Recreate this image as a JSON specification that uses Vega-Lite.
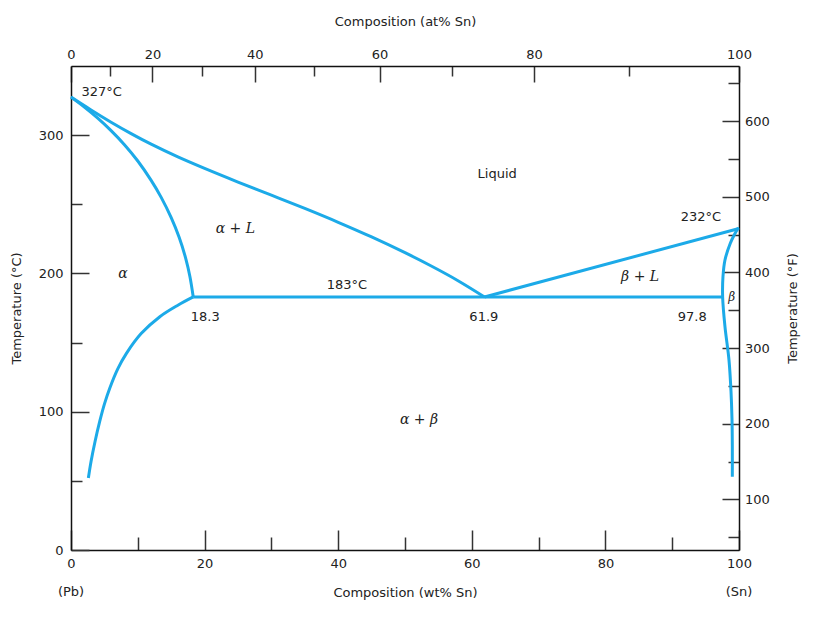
{
  "$schema": "https://vega.github.io/schema/vega-lite/v6.json",
  "width": 668,
  "height": 484,
  "padding": {"left": 10, "top": 15, "right": 5, "bottom": 5},
  "config": {
    "view": {"stroke": null},
    "font": "DejaVu Sans",
    "axis": {
      "grid": false,
      "domainColor": "#111111",
      "domainWidth": 1.5,
      "tickColor": "#333333",
      "tickWidth": 1.5,
      "labelFont": "DejaVu Sans",
      "labelFontSize": 13,
      "labelColor": "#222222",
      "labelFlush": false,
      "labelOverlap": false,
      "titleFont": "DejaVu Sans",
      "titleFontSize": 13,
      "titleFontWeight": "normal",
      "titleColor": "#222222"
    }
  },
  "datasets": {
    "curves": [
      {"curve": "liqA", "i": 1, "w": 0, "T": 327.5},
      {"curve": "liqA", "i": 2, "w": 3, "T": 318.2},
      {"curve": "liqA", "i": 3, "w": 6, "T": 309.35},
      {"curve": "liqA", "i": 4, "w": 9, "T": 301.1},
      {"curve": "liqA", "i": 5, "w": 12, "T": 293.45},
      {"curve": "liqA", "i": 6, "w": 16, "T": 284.25},
      {"curve": "liqA", "i": 7, "w": 20, "T": 275.93},
      {"curve": "liqA", "i": 8, "w": 25, "T": 266.08},
      {"curve": "liqA", "i": 9, "w": 30, "T": 256.58},
      {"curve": "liqA", "i": 10, "w": 35, "T": 246.98},
      {"curve": "liqA", "i": 11, "w": 40, "T": 236.98},
      {"curve": "liqA", "i": 12, "w": 45, "T": 226.38},
      {"curve": "liqA", "i": 13, "w": 50, "T": 214.98},
      {"curve": "liqA", "i": 14, "w": 54, "T": 205.18},
      {"curve": "liqA", "i": 15, "w": 58, "T": 194.58},
      {"curve": "liqA", "i": 16, "w": 61.9, "T": 183},
      {"curve": "solA", "i": 1, "w": 0, "T": 327.5},
      {"curve": "solA", "i": 2, "w": 2, "T": 320.3},
      {"curve": "solA", "i": 3, "w": 4, "T": 312.3},
      {"curve": "solA", "i": 4, "w": 6, "T": 303.3},
      {"curve": "solA", "i": 5, "w": 8, "T": 293.1},
      {"curve": "solA", "i": 6, "w": 10, "T": 281.3},
      {"curve": "solA", "i": 7, "w": 12, "T": 267.3},
      {"curve": "solA", "i": 8, "w": 13.5, "T": 255},
      {"curve": "solA", "i": 9, "w": 15, "T": 240.3},
      {"curve": "solA", "i": 10, "w": 16.2, "T": 225.9},
      {"curve": "solA", "i": 11, "w": 17.2, "T": 210.4},
      {"curve": "solA", "i": 12, "w": 17.8, "T": 197.8},
      {"curve": "solA", "i": 13, "w": 18.3, "T": 183},
      {"curve": "solvA", "i": 1, "w": 18.3, "T": 183},
      {"curve": "solvA", "i": 2, "w": 16, "T": 177},
      {"curve": "solvA", "i": 3, "w": 13.3, "T": 168.7},
      {"curve": "solvA", "i": 4, "w": 10.5, "T": 156.5},
      {"curve": "solvA", "i": 5, "w": 8.3, "T": 142.2},
      {"curve": "solvA", "i": 6, "w": 7, "T": 131},
      {"curve": "solvA", "i": 7, "w": 5.8, "T": 117},
      {"curve": "solvA", "i": 8, "w": 5, "T": 105.5},
      {"curve": "solvA", "i": 9, "w": 4.3, "T": 93},
      {"curve": "solvA", "i": 10, "w": 3.6, "T": 78.5},
      {"curve": "solvA", "i": 11, "w": 3.0, "T": 64},
      {"curve": "solvA", "i": 12, "w": 2.6, "T": 52},
      {"curve": "eut", "i": 1, "w": 18.3, "T": 183},
      {"curve": "eut", "i": 2, "w": 97.6, "T": 183},
      {"curve": "liqB", "i": 1, "w": 61.9, "T": 183},
      {"curve": "liqB", "i": 2, "w": 100, "T": 232.5},
      {"curve": "beta", "i": 1, "w": 99.9, "T": 233},
      {"curve": "beta", "i": 2, "w": 99.3, "T": 228},
      {"curve": "beta", "i": 3, "w": 98.7, "T": 221.8},
      {"curve": "beta", "i": 4, "w": 97.9, "T": 209.7},
      {"curve": "beta", "i": 5, "w": 97.6, "T": 197.6},
      {"curve": "beta", "i": 6, "w": 97.55, "T": 183},
      {"curve": "beta", "i": 7, "w": 97.9, "T": 161.5},
      {"curve": "beta", "i": 8, "w": 98.5, "T": 137.4},
      {"curve": "beta", "i": 9, "w": 98.8, "T": 115},
      {"curve": "beta", "i": 10, "w": 98.95, "T": 95},
      {"curve": "beta", "i": 11, "w": 99.0, "T": 75},
      {"curve": "beta", "i": 12, "w": 99.0, "T": 53}
    ],
    "sansLabels": [
      {"text": "327°C", "w": 4.6, "T": 331.4},
      {"text": "Liquid", "w": 63.8, "T": 271.9},
      {"text": "183°C", "w": 41.3, "T": 191.6},
      {"text": "232°C", "w": 94.3, "T": 241},
      {"text": "18.3", "w": 20.1, "T": 168.7},
      {"text": "61.9", "w": 61.8, "T": 168.7},
      {"text": "97.8", "w": 93.0, "T": 168.7},
      {"text": "(Pb)", "w": 0, "T": -30.1},
      {"text": "(Sn)", "w": 100, "T": -30.1}
    ],
    "phaseLabels": [
      {"text": "α + L", "w": 24.6, "T": 231.9},
      {"text": "α", "w": 7.8, "T": 199.6},
      {"text": "β + L", "w": 85.2, "T": 197.6},
      {"text": "α + β", "w": 52.1, "T": 94}
    ],
    "smallLabels": [
      {"text": "β", "w": 98.9, "T": 183.2}
    ],
    "atAxis": [{"w": 0}, {"w": 100}],
    "fAxis": [{"F": 50}, {"F": 650}]
  },
  "layer": [
    {
      "data": {"name": "curves"},
      "mark": {"type": "line", "color": "#1caae8", "strokeWidth": 3, "interpolate": "catmull-rom"},
      "encoding": {
        "x": {
          "field": "w", "type": "quantitative",
          "scale": {"domain": [0, 100], "nice": false},
          "axis": {
            "orient": "bottom",
            "title": "Composition (wt% Sn)",
            "values": [0, 10, 20, 30, 40, 50, 60, 70, 80, 90, 100],
            "labelExpr": "datum.value % 20 === 0 ? datum.label : ''",
            "tickSize": {"condition": {"test": "datum.value % 20 === 0", "value": -20}, "value": -13},
            "labelPadding": 27.5,
            "titlePadding": 9
          }
        },
        "y": {
          "field": "T", "type": "quantitative",
          "scale": {"domain": [0, 350], "nice": false},
          "axis": {
            "orient": "left",
            "title": "Temperature (°C)",
            "values": [0, 50, 100, 150, 200, 250, 300],
            "labelExpr": "datum.value % 100 === 0 ? datum.label : ''",
            "tickSize": {"condition": {"test": "datum.value % 100 === 0", "value": -18}, "value": -11},
            "labelPadding": 26,
            "titlePadding": 15
          }
        },
        "detail": {"field": "curve", "type": "nominal"},
        "order": {"field": "i", "type": "quantitative"}
      }
    },
    {
      "data": {"name": "sansLabels"},
      "mark": {"type": "text", "font": "DejaVu Sans", "fontSize": 13, "color": "#222222", "align": "center", "baseline": "middle"},
      "encoding": {
        "x": {"field": "w", "type": "quantitative", "scale": {"domain": [0, 100], "nice": false}, "axis": null},
        "y": {"field": "T", "type": "quantitative", "scale": {"domain": [0, 350], "nice": false}, "axis": null},
        "text": {"field": "text"}
      }
    },
    {
      "data": {"name": "phaseLabels"},
      "mark": {"type": "text", "font": "DejaVu Serif", "fontStyle": "italic", "fontSize": 14, "color": "#222222", "align": "center", "baseline": "middle"},
      "encoding": {
        "x": {"field": "w", "type": "quantitative", "scale": {"domain": [0, 100], "nice": false}, "axis": null},
        "y": {"field": "T", "type": "quantitative", "scale": {"domain": [0, 350], "nice": false}, "axis": null},
        "text": {"field": "text"}
      }
    },
    {
      "data": {"name": "smallLabels"},
      "mark": {"type": "text", "font": "DejaVu Serif", "fontStyle": "italic", "fontSize": 12, "color": "#222222", "align": "center", "baseline": "middle"},
      "encoding": {
        "x": {"field": "w", "type": "quantitative", "scale": {"domain": [0, 100], "nice": false}, "axis": null},
        "y": {"field": "T", "type": "quantitative", "scale": {"domain": [0, 350], "nice": false}, "axis": null},
        "text": {"field": "text"}
      }
    },
    {
      "data": {"name": "atAxis"},
      "mark": {"type": "point", "opacity": 0},
      "encoding": {
        "x": {
          "field": "w", "type": "quantitative",
          "scale": {"domain": [0, 100], "nice": false},
          "axis": {
            "orient": "top",
            "title": "Composition (at% Sn)",
            "values": [0, 5.8, 12.2, 19.6, 27.5, 36.4, 46.2, 57.1, 69.3, 83.5, 100],
            "labelExpr": "(round(10*(datum.value/118.71)/(datum.value/118.71+(100-datum.value)/207.2))*10) % 20 === 0 ? '' + round(10*(datum.value/118.71)/(datum.value/118.71+(100-datum.value)/207.2))*10 : ''",
            "tickSize": {"condition": {"test": "(round(10*(datum.value/118.71)/(datum.value/118.71+(100-datum.value)/207.2))*10) % 20 === 0", "value": -16}, "value": -10},
            "labelPadding": 21,
            "titlePadding": 14
          }
        }
      }
    },
    {
      "data": {"name": "fAxis"},
      "mark": {"type": "point", "opacity": 0},
      "encoding": {
        "y": {
          "field": "F", "type": "quantitative",
          "scale": {"domain": [33, 673], "nice": false, "zero": false},
          "axis": {
            "orient": "right",
            "title": "Temperature (°F)",
            "titleAngle": 270,
            "titleBaseline": "top",
            "values": [50, 100, 150, 200, 250, 300, 350, 400, 450, 500, 550, 600, 650],
            "labelExpr": "datum.value % 100 === 0 ? datum.label : ''",
            "tickSize": {"condition": {"test": "datum.value % 100 === 0", "value": -17}, "value": -11},
            "labelPadding": 22.5,
            "titlePadding": 17
          }
        }
      }
    }
  ],
  "resolve": {
    "scale": {"y": "independent"},
    "axis": {"x": "independent", "y": "independent"}
  }
}
